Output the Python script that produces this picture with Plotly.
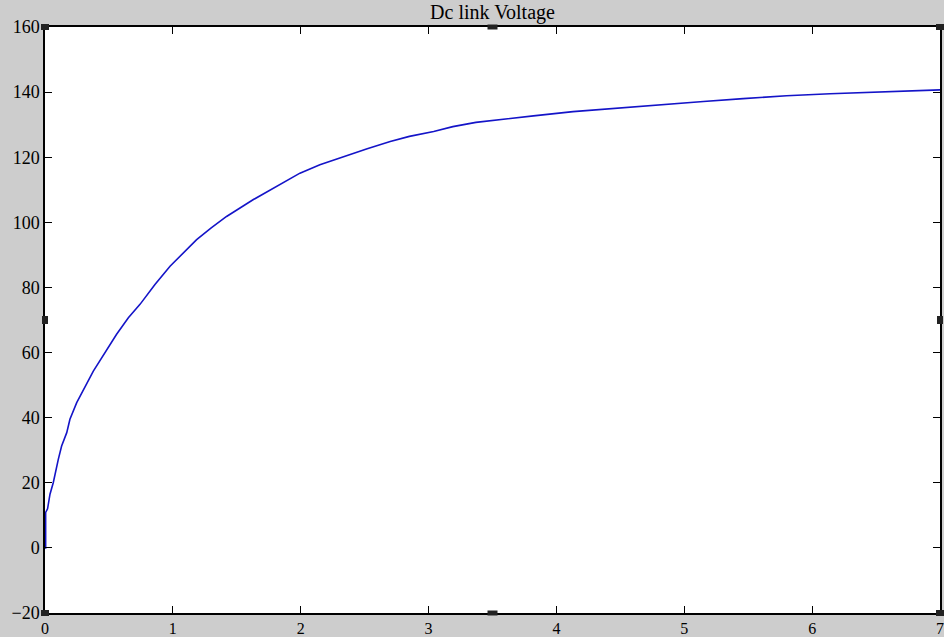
import plotly.graph_objects as go

# Dc link voltage
time_s = [0, 0.005, 0.005, 0.02, 0.039, 0.065, 0.104, 0.13, 0.17, 0.195, 0.248,
          0.378, 0.56, 0.652, 0.743, 0.86, 0.978, 1.082, 1.186, 1.30, 1.42, 1.63,
          1.994, 2.15, 2.33, 2.52, 2.70, 2.85, 3.04, 3.19, 3.37, 3.585, 3.82,
          4.13, 4.47, 4.81, 5.15, 5.46, 5.80, 6.14, 6.45, 6.74, 7.0]
voltage = [0, 0, 10.9, 12, 16.5, 20.1, 27.2, 31.3, 35.4, 39.5, 44.6,
           54.3, 65.6, 70.7, 74.8, 80.9, 86.5, 90.6, 94.7, 98.3, 101.8, 107,
           115.1, 117.7, 120.2, 122.6, 124.8, 126.4, 127.9, 129.4, 130.7, 131.7, 132.7,
           134.0, 135.1, 136.1, 137.1, 138.0, 138.9, 139.5, 140.0, 140.4, 140.7]

x_ticks = [0, 1, 2, 3, 4, 5, 6, 7]
y_ticks = [-20, 0, 20, 40, 60, 80, 100, 120, 140, 160]

fig = go.Figure()
fig.add_trace(go.Scatter(
    x=time_s,
    y=voltage,
    mode="lines",
    line=dict(color="#1414c8", width=1.6),
    showlegend=False
))

axis_style = dict(
    showgrid=False,
    zeroline=False,
    showline=True,
    linecolor="black",
    linewidth=1.5,
    mirror="ticks",
    ticks="inside",
    ticklen=7,
    tickcolor="black",
    automargin=False,
    ticklabeloverflow="allow",
    ticklabelstandoff=0,
)

fig.update_xaxes(range=[0, 7], tickvals=x_ticks,
                 tickfont=dict(family="Liberation Serif", size=16, color="black"),
                 **axis_style)
fig.update_yaxes(range=[-20, 160], tickvals=y_ticks,
                 tickfont=dict(family="Liberation Serif", size=18, color="black"),
                 **axis_style)

# scope resize handles on the plot frame
handles = [(0, 0, 8, 6), (1, 0, 8, 6), (0, 1, 8, 6), (1, 1, 8, 6),
           (0.5, 1, 10, 5), (0.5, 0, 10, 5), (0, 0.5, 6, 8), (1, 0.5, 6, 8)]
for hx, hy, w, h in handles:
    fig.add_shape(
        type="rect", xref="paper", yref="paper",
        xsizemode="pixel", ysizemode="pixel",
        xanchor=hx, yanchor=hy,
        x0=-w / 2, x1=w / 2, y0=-h / 2, y1=h / 2,
        fillcolor="#222222", line=dict(width=0)
    )

fig.update_layout(
    width=944,
    height=637,
    paper_bgcolor="#cdcdcd",
    plot_bgcolor="white",
    margin=dict(l=45, r=4, t=27, b=24, autoexpand=False),
    title=dict(
        text="Dc link Voltage",
        x=0.5, xref="paper", y=0.981, yref="container",
        yanchor="middle", automargin=False,
        font=dict(family="Liberation Serif", size=20, color="black")
    ),
)

# drop the page's default body margin so the figure fills the window
fig.write_html("out.html", config={"displayModeBar": False},
               post_script="document.body.style.margin = '0';")
